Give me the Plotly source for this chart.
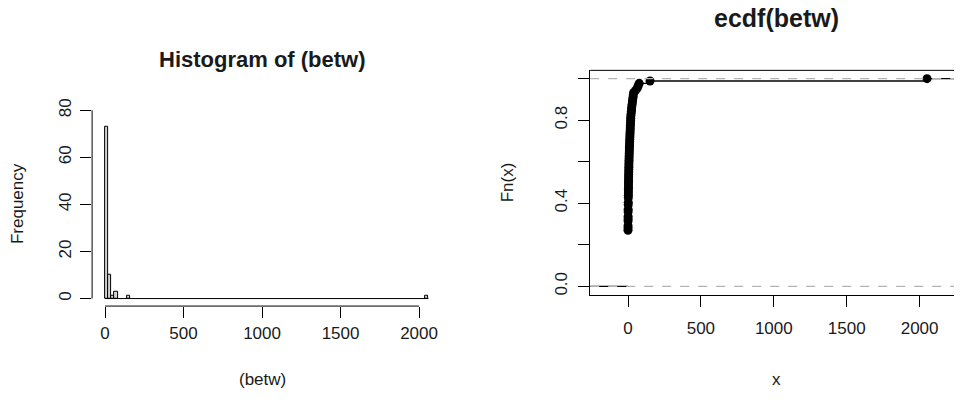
import numpy as np
import plotly.graph_objects as go

betw = [0, 0, 0, 0, 0, 0, 0, 0, 0, 0, 0, 0, 0, 0, 0, 0, 0, 0, 0, 0, 0, 0, 0, 0,
        0.25, 0.33, 0.5, 0.5, 0.67, 0.83, 1, 1, 1.2, 1.5, 1.5, 1.8, 2, 2, 2.3,
        2.5, 2.8, 3, 3.2, 3.5, 3.8, 4, 4.3, 4.7, 5, 5.3, 5.8, 6.2, 6.5, 7,
        7.5, 8, 8.5, 9, 9.5, 10.2, 10.8, 11.5, 12, 12.8, 13.5, 14.2, 15, 15.8,
        16.5, 17.3, 18, 18.8, 19.5,
        21.5, 23, 24.5, 26, 28, 30, 32, 34.5, 36, 38.5,
        52,
        64, 70, 77,
        151,
        2051]

bin_start, bin_end, bin_size = 0, 2060, 20
hist_xticks = [0, 500, 1000, 1500, 2000]
hist_yticks = [0, 20, 40, 60, 80]
ecdf_xticks = [0, 500, 1000, 1500, 2000]
ecdf_yticks = [0, 0.2, 0.4, 0.6, 0.8, 1.0]
ecdf_ytext = ["0.0", "", "0.4", "", "0.8", ""]

W, H = 962, 400
OX, OY = 8, 11.5  # page offset of the figure inside the browser window

def px(x):
    return (x - OX) / W

def py(y):
    return 1 - (y - OY) / H

# axis ranges (R style: 4% padding)
hx_range = [-82.4, 2142.4]
hy_range = [-3.2, 83.2]
ey_range = [-0.04, 1.04]
ex_left_px = 590.2
ex_scale = 0.1458  # px per unit
ex_left = -259.25
ex_right = ex_left + (W + OX - ex_left_px) / ex_scale
ex_range = [ex_left, ex_right]

hx_dom = [px(92.1), px(441.4)]
hy_dom = [py(309.3), py(103.4)]
ex_dom = [px(ex_left_px), 1.0]
ey_dom = [py(297.7), py(70.6)]

txt = "#1a1a1a"
FONT = "Liberation Sans, Arial, sans-serif"

# ECDF computation
vals = np.array(betw, dtype=float)
n = len(vals)
ux = np.unique(vals)
Fn = np.array([(vals <= u).sum() / n for u in ux])
step_x, step_y = [ex_range[0], ux[0], None], [0, 0, None]
for i in range(len(ux)):
    x_next = ux[i + 1] if i + 1 < len(ux) else ex_range[1]
    step_x += [ux[i], x_next, None]
    step_y += [Fn[i], Fn[i], None]

fig = go.Figure()
fig.add_trace(go.Histogram(
    x=betw, xbins=dict(start=bin_start, end=bin_end, size=bin_size),
    marker=dict(color="#d3d3d3", line=dict(color="black", width=1)),
    xaxis="x", yaxis="y", hoverinfo="skip"))
fig.add_trace(go.Scatter(x=[bin_start, bin_end], y=[0, 0], mode="lines",
                         line=dict(color="black", width=1), xaxis="x", yaxis="y"))

fig.add_trace(go.Scatter(x=step_x, y=step_y, mode="lines",
                         line=dict(color="black", width=1.3), xaxis="x2", yaxis="y2"))
fig.add_trace(go.Scatter(x=ux, y=Fn, mode="markers",
                         marker=dict(color="black", size=9), xaxis="x2", yaxis="y2"))
for hv in [0, 1]:
    fig.add_trace(go.Scatter(x=ex_range, y=[hv, hv], mode="lines",
                             line=dict(color="#b3b3b3", width=1.2, dash="dash"),
                             xaxis="x2", yaxis="y2"))

axis_common = dict(showgrid=False, zeroline=False, ticks="outside", ticklen=11,
                   tickcolor="black", tickwidth=1,
                   tickfont=dict(size=17, color=txt, family=FONT))

fig.update_layout(
    width=W, height=H, margin=dict(l=0, r=0, t=0, b=0),
    paper_bgcolor="white", plot_bgcolor="white", showlegend=False, bargap=0,
    font=dict(family=FONT, color=txt),
    xaxis=dict(domain=hx_dom, range=hx_range, tickvals=hist_xticks, anchor="y",
               showline=False, ticklabelstandoff=1, **axis_common),
    yaxis=dict(domain=hy_dom, range=hy_range, tickvals=hist_yticks, anchor="x",
               showline=False, tickangle=-90, ticklabelstandoff=2, **axis_common),
    xaxis2=dict(domain=ex_dom, range=ex_range, tickvals=ecdf_xticks, anchor="y2",
                showline=True, linecolor="black", linewidth=1,
                ticklabelstandoff=7, **axis_common),
    yaxis2=dict(domain=ey_dom, range=ey_range, tickvals=ecdf_yticks, ticktext=ecdf_ytext,
                anchor="x2", showline=True, linecolor="black", linewidth=1,
                tickangle=-90, ticklabelstandoff=4, **axis_common),
)

def frac(v, r):
    return (v - r[0]) / (r[1] - r[0])

# R-style axis lines spanning first to last tick (histogram)
fig.add_shape(type="line", xref="x domain", yref="y domain",
              x0=frac(hist_xticks[0], hx_range), x1=frac(hist_xticks[-1], hx_range),
              y0=0, y1=0, line=dict(color="black", width=1))
fig.add_shape(type="line", xref="x domain", yref="y domain",
              x0=0, x1=0, y0=frac(hist_yticks[0], hy_range), y1=frac(hist_yticks[-1], hy_range),
              line=dict(color="black", width=1))
# top of ECDF box
fig.add_shape(type="line", xref="x2 domain", yref="y2 domain", x0=0, x1=1, y0=1, y1=1,
              line=dict(color="black", width=1))

ann = [
    dict(text="<b>Histogram of (betw)</b>", x=262, y=60, size=22, angle=0),
    dict(text="(betw)", x=262, y=384, size=17, angle=0),
    dict(text="Frequency", x=17, y=206, size=17, angle=-90),
    dict(text="<b>ecdf(betw)</b>", x=776, y=18, size=25, angle=0),
    dict(text="x", x=776, y=384, size=17, angle=0),
    dict(text="Fn(x)", x=507, y=184, size=17, angle=-90),
]
for a in ann:
    fig.add_annotation(text=a["text"], x=px(a["x"]), y=py(a["y"]), xref="paper", yref="paper",
                       xanchor="center", yanchor="middle", showarrow=False,
                       textangle=a["angle"], font=dict(size=a["size"], color=txt, family=FONT))

fig.write_html("out.html")
